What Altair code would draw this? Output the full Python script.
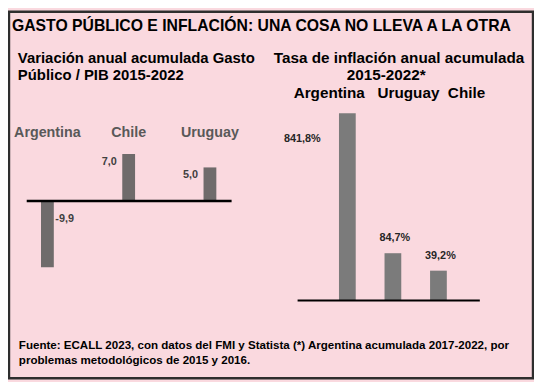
import altair as alt
import pandas as pd

# ---- texts ----
title_text = "GASTO PÚBLICO E INFLACIÓN: UNA COSA NO LLEVA A LA OTRA"
left_subtitle = ["Variación anual acumulada Gasto", "Público / PIB 2015-2022"]
right_subtitle = ["Tasa de inflación anual acumulada", "2015-2022*"]
footer_lines = [
    "Fuente: ECALL 2023, con datos del FMI y Statista (*) Argentina acumulada 2017-2022, por",
    "problemas metodológicos de 2015 y 2016.",
]

# ---- data: gasto público / PIB ----
gasto_paises = ["Argentina", "Chile", "Uruguay"]
gasto_valores = [-9.9, 7.0, 5.0]
gasto_etiquetas = ["-9,9", "7,0", "5,0"]

# ---- data: inflación ----
infl_paises = ["Argentina", "Uruguay", "Chile"]
infl_valores = [841.8, 84.7, 39.2]
infl_etiquetas = ["841,8%", "84,7%", "39,2%"]

FONT = "Liberation Sans"

gdf = pd.DataFrame({"pais": gasto_paises, "valor": gasto_valores, "etiqueta": gasto_etiquetas})
idf = pd.DataFrame({"pais": infl_paises, "valor": infl_valores, "etiqueta": infl_etiquetas})

# ---- left panel ----
left_x = alt.Scale(domain=gasto_paises, range=[-2.25, 245.25], paddingInner=0, paddingOuter=0)
left_y = alt.Scale(domain=[-10, 10], range=[260, 124], nice=False)

lx = alt.X("pais:N", scale=left_x, axis=None, sort=None)
ly = alt.Y("valor:Q", scale=left_y, axis=None)

left_base = alt.Chart(gdf)
left_bars = left_base.mark_bar(size=13, color="#6f6b6b").encode(x=lx, y=ly)
left_rule = left_base.transform_filter("datum.valor < 0").transform_calculate(cero="0").mark_rule(
    color="#000000", strokeWidth=2.5
).encode(
    y=alt.Y("cero:Q", scale=left_y, axis=None), x=alt.value(18), x2=alt.value(226)
)
left_cats = left_base.mark_text(
    font=FONT, fontSize=14.5, fontWeight="bold", color="#595959", baseline="alphabetic"
).encode(x=lx, y=alt.value(127), text="pais:N")
left_pos = left_base.transform_filter("datum.valor > 0").mark_text(
    font=FONT, fontSize=11, fontWeight="bold", color="#404040", align="right",
    baseline="middle", dx=-12, dy=8
).encode(x=lx, y=ly, text="etiqueta:N")
left_neg = left_base.transform_filter("datum.valor < 0").mark_text(
    font=FONT, fontSize=11, fontWeight="bold", color="#404040", align="left",
    baseline="middle", dx=8, dy=-49
).encode(x=lx, y=ly, text="etiqueta:N")

# ---- right panel ----
right_x = alt.Scale(domain=infl_paises, range=[320.4, 459.1], paddingInner=0, paddingOuter=0)
right_y = alt.Scale(type="pow", exponent=0.6, domain=[0, 841.8], range=[293, 103], nice=False)

rx = alt.X("pais:N", scale=right_x, axis=None, sort=None)
ry = alt.Y("valor:Q", scale=right_y, axis=None)

right_base = alt.Chart(idf)
right_bars = right_base.mark_bar(size=17, color="#7b7b7b").encode(x=rx, y=ry)
right_rule = right_base.transform_filter("datum.valor > 500").transform_calculate(cero="0").mark_rule(
    color="#000000", strokeWidth=2
).encode(
    y=alt.Y("cero:Q", scale=right_y, axis=None), x=alt.value(293), x2=alt.value(478)
)
right_big = right_base.transform_filter("datum.valor > 500").mark_text(
    font=FONT, fontSize=11, fontWeight="bold", color="#262626", align="right",
    baseline="middle", dx=-27, dy=26
).encode(x=rx, y=ry, text="etiqueta:N")
right_small = right_base.transform_filter("datum.valor < 500").mark_text(
    font=FONT, fontSize=11, fontWeight="bold", color="#262626", align="center",
    baseline="middle", dx=2, dy=-15
).encode(x=rx, y=ry, text="etiqueta:N")

# ---- free texts ----
header_line = "\u00a0\u00a0\u00a0".join(infl_paises[:2]) + "\u00a0\u00a0" + infl_paises[2]

def text_layer(txt, x, y, size, align="left", color="#000000", line_height=17):
    return alt.Chart(pd.DataFrame({"t": [txt]})).mark_text(
        font=FONT, fontSize=size, fontWeight="bold", color=color, align=align,
        baseline="alphabetic", lineBreak="\n", lineHeight=line_height
    ).encode(x=alt.value(x), y=alt.value(y), text="t:N")

title_l = text_layer(title_text, 3, 19, 16)
lsub = text_layer("\n".join(left_subtitle), 9, 52, 15.1, line_height=17.5)
rsub1 = text_layer(right_subtitle[0], 396, 52, 15.5, align="center")
rsub2 = text_layer(right_subtitle[1], 383, 69.5, 15.5, align="center")
rcats = text_layer(header_line, 289, 88, 15.5)
foot = text_layer("\n".join(footer_lines), 10, 342, 11.75, line_height=15.5)

chart = alt.layer(
    left_bars, left_rule, left_cats, left_pos, left_neg,
    right_bars, right_rule, right_big, right_small,
    title_l, lsub, rsub1, rsub2, rcats, foot,
).resolve_scale(
    x="independent", y="independent"
).properties(
    width=532, height=372, autosize="none", padding=1
).configure(
    background="#fad9df"
).configure_view(
    stroke="#2e2e2e", strokeWidth=2.5
)

chart.save("out.html", embed_options={"renderer": "svg", "actions": False})
